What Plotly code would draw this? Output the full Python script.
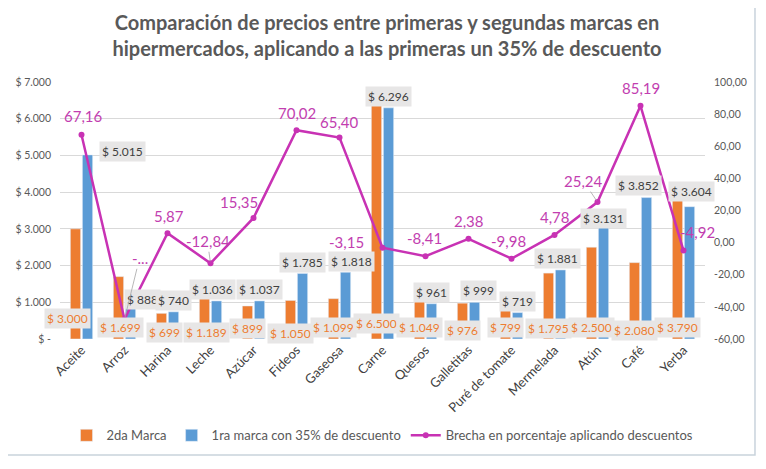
import plotly.graph_objects as go

categorias = ["Aceite", "Arroz", "Harina", "Leche", "Azúcar", "Fideos", "Gaseosa", "Carne",
              "Quesos", "Galletitas", "Puré de tomate", "Mermelada", "Atún", "Café", "Yerba"]
segunda_marca = [3000, 1699, 699, 1189, 899, 1050, 1099, 6500, 1049, 976, 799, 1795, 2500, 2080, 3790]
primera_desc = [5015, 888, 740, 1036, 1037, 1785, 1818, 6296, 961, 999, 719, 1881, 3131, 3852, 3604]
brecha = [67.16, -47.73, 5.87, -12.84, 15.35, 70.02, 65.40, -3.15, -8.41, 2.38, -9.98, 4.78, 25.24, 85.19, -4.92]
left_ticks = [0, 1000, 2000, 3000, 4000, 5000, 6000, 7000]
right_ticks = [-60, -40, -20, 0, 20, 40, 60, 80, 100]

ORANGE = "#ED7D31"
BLUE = "#5B9BD5"
MAGENTA = "#C832B4"
MAGENTA_TXT = "#C23EB0"
GRAY = "#595959"
FONT = "Lato"


def pesos(v):
    return "$ " + f"{v:,}".replace(",", ".") if v else "$ -"


def coma(v):
    return f"{v:.2f}".replace(".", ",")


fig = go.Figure()
fig.add_trace(go.Bar(x=categorias, y=segunda_marca, name="2da Marca", marker_color=ORANGE,
                     yaxis="y"))
fig.add_trace(go.Bar(x=categorias, y=primera_desc, name="1ra marca con 35% de descuento",
                     marker_color=BLUE, yaxis="y"))
fig.add_trace(go.Scatter(x=categorias, y=brecha, name="Brecha en porcentaje aplicando descuentos",
                         mode="lines+markers", yaxis="y2",
                         line=dict(color=MAGENTA, width=2.5),
                         marker=dict(color=MAGENTA, size=6)))

annotations = []
# Orange labels (inside base)
orange_dx = [-8, 2, 3, 2, 0, 0, 0, 0, 0, 0, 0, 0, 0, 0, 0]
orange_dy = [21, 12, 7, 7, 11, 6, 12, 16, 12, 9, 12, 11, 12, 9, 12]
for c, v, dx, dy in zip(categorias, segunda_marca, orange_dx, orange_dy):
    annotations.append(dict(x=c, y=0, xref="x", yref="y", text=pesos(v), showarrow=False,
                            xshift=-6 + dx, yshift=dy, yanchor="middle",
                            font=dict(family=FONT, size=12, color=ORANGE),
                            bgcolor="#E7E6E6", borderpad=2))
# Blue labels (outside end)
blue_dx = [35, 12, 0, -4, 0, 0, 6, 0, 0, 4, 0, -3, 0, -8, 2]
blue_dy = [-8, -5, 0, 0, 0, -1, -1, 0, 0, 0, 0, 0, -6, 1, 4]
for c, v, dx, dy in zip(categorias, primera_desc, blue_dx, blue_dy):
    annotations.append(dict(x=c, y=v, xref="x", yref="y", text=pesos(v), showarrow=False,
                            xshift=6 + dx, yshift=dy + 1, yanchor="bottom",
                            font=dict(family=FONT, size=12, color="#404040"),
                            bgcolor="#E7E6E6", borderpad=2))
# Line labels
line_dx = [2, 15, 1, -3, -15, 0, 0, -36, -1, 0, -3, 0, -14, 0, 14]
line_dy = [-19, -61, -17, -22, -16, -17, -16, -6, -18, -18, -18, -18, -21, -18, -19]
leader = [False, True, False, True, False, False, False, False, False, False, False, False, True, False, False]
for i, (c, v) in enumerate(zip(categorias, brecha)):
    txt = "-..." if categorias[i] == "Arroz" else coma(v)
    annotations.append(dict(x=c, y=v, xref="x", yref="y2", text=txt, showarrow=True,
                            ax=line_dx[i], ay=line_dy[i], axref="pixel", ayref="pixel",
                            arrowhead=0, arrowwidth=0.8, standoff=2,
                            arrowcolor="#A6A6A6" if leader[i] else "rgba(0,0,0,0)",
                            font=dict(family=FONT, size=15, color=MAGENTA_TXT)))

fig.update_layout(
    width=758, height=461,
    margin=dict(l=52, r=61, t=74, b=130, autoexpand=False),
    paper_bgcolor="white", plot_bgcolor="white",
    font=dict(family=FONT, color=GRAY),
    title=dict(text="Comparación de precios entre primeras y segundas marcas en<br>"
                    "hipermercados, aplicando a las primeras un 35% de descuento",
               x=0.5, xanchor="center", y=1 - 22 / 461, yanchor="middle", yref="container",
               font=dict(family=FONT, size=20, color=GRAY, weight="bold")),
    barmode="group", bargap=0.44, bargroupgap=0.15,
    xaxis=dict(tickangle=-45, tickfont=dict(family=FONT, size=13, color="#404040"),
               range=[-0.5, len(categorias) - 0.5],
               showline=False, ticks="", showgrid=False, automargin=False),
    yaxis=dict(range=[0, 7000], tickvals=left_ticks, ticktext=[pesos(v) for v in left_ticks],
               gridcolor="#D9D9D9", zeroline=False, showline=False, automargin=False,
               ticklabelstandoff=8,
               tickfont=dict(family=FONT, size=10.5, color=GRAY), ticks=""),
    yaxis2=dict(range=[-60, 100], tickvals=right_ticks, ticktext=[coma(v) for v in right_ticks],
                overlaying="y", side="right", showgrid=False, zeroline=False, showline=False,
                automargin=False, ticklabelstandoff=8,
                tickfont=dict(family=FONT, size=10.5, color=GRAY), ticks=""),
    legend=dict(orientation="h", x=0.5, xanchor="center", y=-0.375, yanchor="middle",
                font=dict(family=FONT, size=13, color=GRAY)),
    annotations=annotations,
    shapes=[dict(type="rect", xref="paper", yref="paper", x0=-0.0853, x1=1.0775,
                 y0=-0.451, y1=1.2996, line=dict(color="#C9D3DC", width=1.5), layer="below")],
)

fig.write_html("out.html")
